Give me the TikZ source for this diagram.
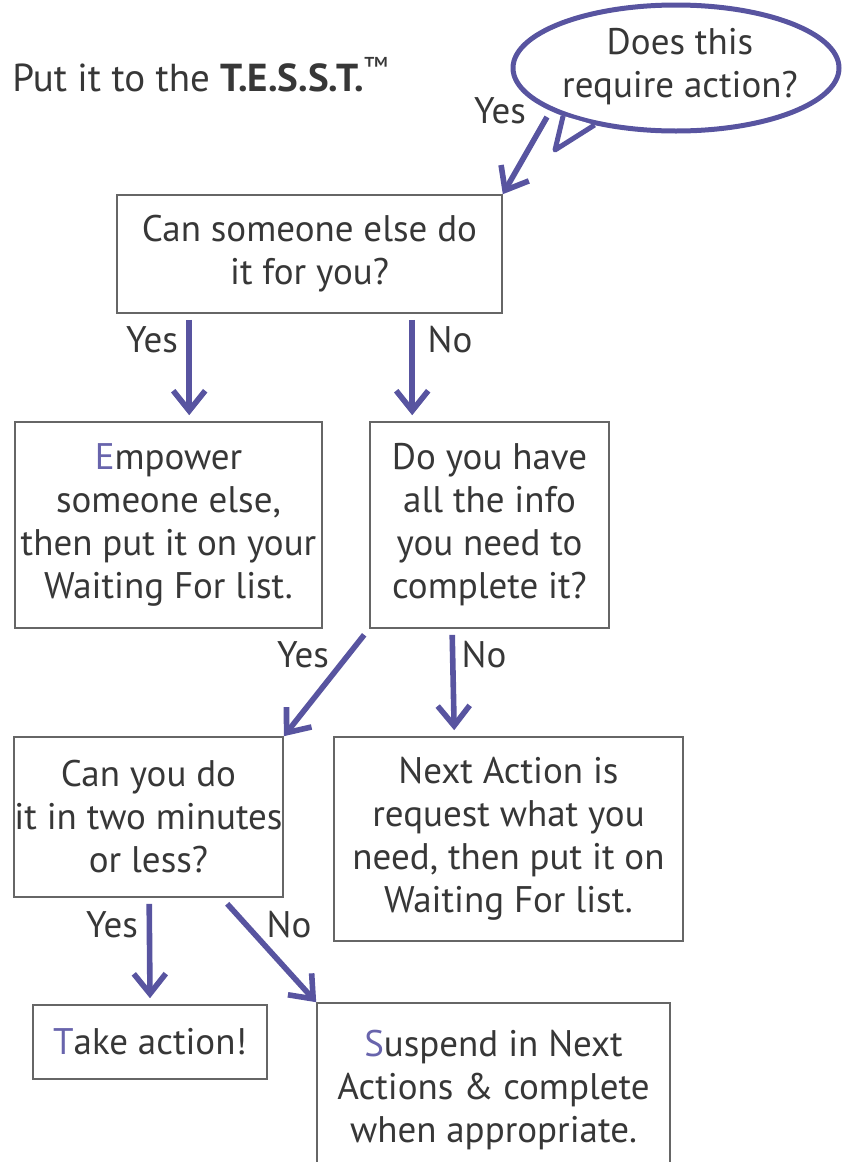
\documentclass[tikz,border=0pt]{standalone}
\usepackage{fontspec}
\setmainfont{PT Sans}
\usepackage{tikz}
\usetikzlibrary{shapes}
\usetikzlibrary{calc}
\usetikzlibrary{arrows.meta}
\definecolor{tessblue}{RGB}{88,84,160}
\definecolor{tessletter}{RGB}{104,100,172}
\definecolor{inkgray}{RGB}{55,55,55}

\begin{document}
\begin{tikzpicture}[x=0.5pt, y=-0.5pt,
  every node/.style={text=inkgray, font=\fontsize{18.5}{21.5}\selectfont, inner sep=0pt},
  box/.style={draw=black!60, line width=0.8pt, align=center},
  flow/.style={draw=tessblue, line width=2.8pt, -{Straight Barb[length=10pt, width=16pt]}}]
\path[use as bounding box, clip] (0,0) rectangle (848,1162);
\node[anchor=west, font=\fontsize{19.5}{22}\selectfont] (title) at (12,75) {Put it to the \textbf{T.E.S.S.T.}\textsuperscript{™}};
\node[ellipse, draw=tessblue, line width=2.5pt, minimum width=163pt, minimum height=63pt] (ask) at (676,68) {};
\node[align=center] (askText) at (680,67) {Does this\\require action?};
\coordinate (tip) at (555,150);
\fill[white] (ask.203) -- (tip) -- (ask.215) -- cycle;
\draw[tessblue, line width=2.5pt, line join=round] (ask.203) -- (tip) -- (ask.215);
\node[box, minimum width=192.5pt, minimum height=59pt] (G1) at (309.5,254) {Can someone else do\\it for you?};
\node[box, minimum width=153.5pt, minimum height=103pt] (G2) at (168.5,525) {\textcolor{tessletter}{E}mpower\\someone else,\\then put it on your\\Waiting For list.};
\node[box, minimum width=119.5pt, minimum height=103pt] (G3) at (489.5,525) {Do you have\\all the info\\you need to\\complete it?};
\node[box, minimum width=134.5pt, minimum height=80pt] (G4) at (148.5,817) {Can you do\\it in two minutes\\or less?};
\node[box, minimum width=174.5pt, minimum height=102pt] (G5) at (508.5,839) {Next Action is\\request what you\\need, then put it on\\Waiting For list.};
\node[box, minimum width=117pt, minimum height=37pt] (G6) at (150,1042) {\textcolor{tessletter}{T}ake action!};
\node[box, minimum width=176.5pt, minimum height=87.5pt] (G7) at (493.5,1090.5) {\textcolor{tessletter}{S}uspend in Next\\Actions \& complete\\when appropriate.};
\node (L0) at (500,111) {Yes};
\node (L1) at (152,340) {Yes};
\node (L2) at (450,340) {No};
\node (L3) at (303,655) {Yes};
\node (L4) at (484,655) {No};
\node (L5) at (112,925) {Yes};
\node (L6) at (289,925) {No};
\draw[flow] ($(ask.center)+(-129,49)$) -- (G1.north east);
\draw[flow] ($(G1.south west)+(73,6)$) -- ($(G2.north west)+(175,-6)$);
\draw[flow] ($(G1.south west)+(296,6)$) -- ($(G3.north west)+(43,-6)$);
\draw[flow] ($(G3.south west)+(-5,6)$) -- (G4.north east);
\draw[flow] ($(G3.south west)+(83,6)$) -- ($(G5.north west)+(121,-6)$);
\draw[flow] ($(G4.south west)+(136,6)$) -- ($(G6.north)+(0,-6)$);
\draw[flow] ($(G4.south west)+(214,6)$) -- (G7.north west);
\end{tikzpicture}
\end{document}
